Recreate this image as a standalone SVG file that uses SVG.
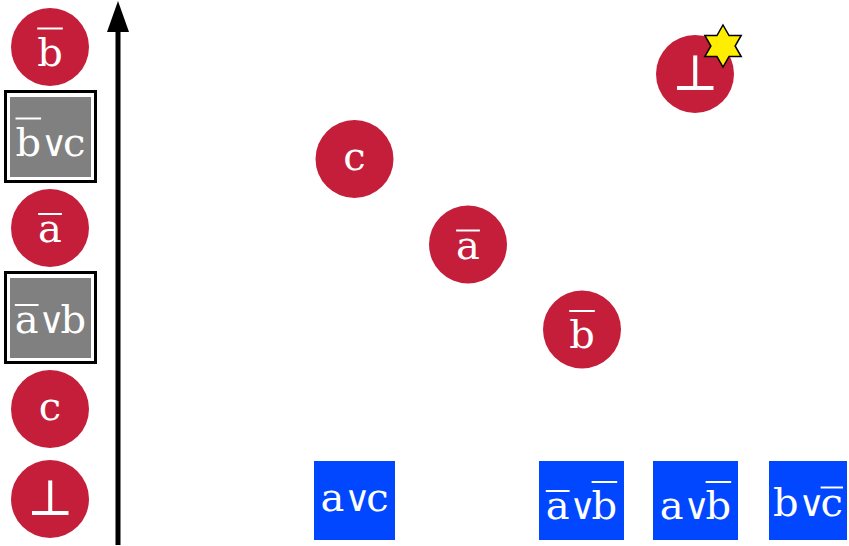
<svg xmlns="http://www.w3.org/2000/svg" width="849" height="546" viewBox="0 0 849 546">
<defs>
<style>
.red{fill:#C41E3A}
.blue{fill:#0047FF}
.grey{fill:#808080}
.frame{fill:#fff;stroke:#000;stroke-width:3}
.t{font-family:"DejaVu Serif","Liberation Serif",serif;font-size:40px;fill:#fff}
.bot{font-size:50px}
.op{font-family:"DejaVu Sans",sans-serif;font-size:36px;letter-spacing:-9px}
.ol{stroke:#fff;stroke-width:2;fill:none}
.star{fill:#FFEE00;stroke:#000;stroke-width:1.5;stroke-linejoin:miter}
</style>
<marker id="ah" markerUnits="userSpaceOnUse" markerWidth="31" markerHeight="22" viewBox="0 0 31 22" refX="0" refY="11" orient="auto">
<path d="M0,0 L31,11 L0,22 Z" fill="#000"/>
</marker>
</defs>
<rect width="849" height="546" fill="#fff"/>
<g id="connectors">
<path d="M118,545 L118,32" stroke="#000" stroke-width="5" fill="none" marker-end="url(#ah)"/>
</g>
<g id="L1">
<circle class="red" cx="50" cy="47" r="39"/>
<text class="t" x="50" y="65.5" text-anchor="middle">b</text>
<line class="ol" x1="37.2" y1="28.5" x2="62.8" y2="28.5"/>
</g>
<g id="L2">
<rect class="frame" x="5.5" y="91.5" width="90" height="90"/>
<rect class="grey" x="10" y="97" width="81" height="80"/>
<text class="t" y="155.5"><tspan x="15.5">b</tspan><tspan class="op" x="41.1">∨</tspan><tspan x="63.1">c</tspan></text>
<line class="ol" x1="15.5" y1="118.5" x2="41.1" y2="118.5"/>
</g>
<g id="L3">
<circle class="red" cx="50" cy="228" r="39"/>
<text class="t" x="50" y="242" text-anchor="middle">a</text>
<line class="ol" x1="38.1" y1="214" x2="61.9" y2="214"/>
</g>
<g id="L4">
<rect class="frame" x="5.5" y="272.5" width="90" height="90"/>
<rect class="grey" x="10" y="278" width="81" height="80"/>
<text class="t" y="333"><tspan x="14.8">a</tspan><tspan class="op" x="38.6">∨</tspan><tspan x="60.6">b</tspan></text>
<line class="ol" x1="14.8" y1="305" x2="38.6" y2="305"/>
</g>
<g id="L5">
<circle class="red" cx="50" cy="409" r="39"/>
<text class="t" x="50" y="419.5" text-anchor="middle">c</text>
</g>
<g id="L6">
<circle class="red" cx="50" cy="499" r="39"/>
<text class="t bot" x="50" y="515" text-anchor="middle">⊥</text>
</g>
<g id="M1">
<circle class="red" cx="354.5" cy="159" r="39"/>
<text class="t" x="354.5" y="169.5" text-anchor="middle">c</text>
</g>
<g id="M2">
<circle class="red" cx="468" cy="244.5" r="39"/>
<text class="t" x="468" y="258.5" text-anchor="middle">a</text>
<line class="ol" x1="456.1" y1="230.5" x2="479.9" y2="230.5"/>
</g>
<g id="M3">
<circle class="red" cx="582" cy="329.5" r="39"/>
<text class="t" x="582" y="348" text-anchor="middle">b</text>
<line class="ol" x1="569.2" y1="311" x2="594.8" y2="311"/>
</g>
<g id="M4">
<circle class="red" cx="695" cy="74" r="39"/>
<text class="t bot" x="695" y="90" text-anchor="middle">⊥</text>
<polygon class="star" points="723,25 729.06,35.5 741.2,35.5 735.1,46 741.2,56.5 729.06,56.5 723,67 716.94,56.5 704.8,56.5 710.9,46 704.8,35.5 716.94,35.5"/>
</g>
<g id="B1">
<rect class="blue" x="314" y="461" width="81" height="79"/>
<text class="t" y="511"><tspan x="320.4">a</tspan><tspan class="op" x="344.2">∨</tspan><tspan x="366.2">c</tspan></text>
</g>
<g id="B2">
<rect class="blue" x="539" y="461" width="85" height="79"/>
<text class="t" y="519"><tspan x="545.8">a</tspan><tspan class="op" x="569.6">∨</tspan><tspan x="591.6">b</tspan></text>
<line class="ol" x1="545.8" y1="491" x2="569.6" y2="491"/>
<line class="ol" x1="591.6" y1="482" x2="617.2" y2="482"/>
</g>
<g id="B3">
<rect class="blue" x="653" y="461" width="85" height="79"/>
<text class="t" y="519"><tspan x="659.8">a</tspan><tspan class="op" x="683.6">∨</tspan><tspan x="705.6">b</tspan></text>
<line class="ol" x1="705.6" y1="482" x2="731.2" y2="482"/>
</g>
<g id="B4">
<rect class="blue" x="769" y="461" width="78" height="79"/>
<text class="t" y="515.5"><tspan x="773">b</tspan><tspan class="op" x="798.6">∨</tspan><tspan x="820.6">c</tspan></text>
<line class="ol" x1="820.6" y1="487.5" x2="843" y2="487.5"/>
</g>
</svg>
